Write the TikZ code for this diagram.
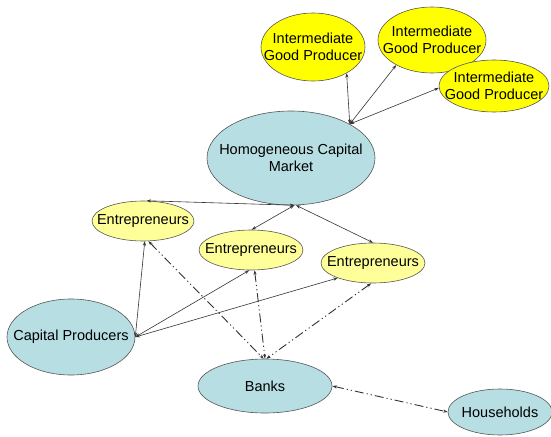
\documentclass[tikz,border=0pt]{standalone}
\usepackage{fontspec}
\setmainfont{Liberation Sans}
\usepackage{xcolor}
\usetikzlibrary{shapes.geometric}
\usetikzlibrary{arrows.meta}

\definecolor{capblue}{RGB}{183,222,226}
\definecolor{goodyellow}{RGB}{255,255,0}
\definecolor{entyellow}{RGB}{255,255,153}
\definecolor{rimgray}{RGB}{85,85,85}

\begin{document}
\begin{tikzpicture}[x=1pt,y=-1pt,
	font=\fontsize{14.5}{17.5}\selectfont,
	blob/.style={ellipse,draw=rimgray,line width=0.6pt,inner sep=0pt},
	market/.style={blob,fill=capblue},
	good/.style={blob,fill=goodyellow},
	firm/.style={blob,fill=entyellow},
	link/.style={{Stealth[length=4.5pt,width=3.2pt]}-{Stealth[length=4.5pt,width=3.2pt]},line width=0.6pt,draw=black!80},
	credit/.style={link,line width=0.9pt,dash pattern=on 9pt off 3pt on 1.2pt off 3pt on 1.2pt off 3pt}]
	\useasboundingbox (0,0) rectangle (551,436);
	\node [market,minimum width=168,minimum height=94,label={[align=center]center:Homogeneous Capital\\Market}] (hcm) at (291,158){};
	\node [good,minimum width=104,minimum height=68,label={[align=center]center:Intermediate\\Good Producer}] (igp1) at (313,47){};
	\node [good,minimum width=108,minimum height=66,label={[align=center]center:Intermediate\\Good Producer}] (igp2) at (432,40){};
	\node [good,minimum width=110,minimum height=52,label={[align=center]center:Intermediate\\Good Producer}] (igp3) at (494,86){};
	\node [firm,minimum width=102,minimum height=40,label=center:Entrepreneurs] (ent1) at (143,221){};
	\node [firm,minimum width=104,minimum height=40,label=center:Entrepreneurs] (ent2) at (251,250){};
	\node [firm,minimum width=104,minimum height=40,label=center:Entrepreneurs] (ent3) at (373,263){};
	\node [market,minimum width=128,minimum height=76,label=center:Capital Producers] (cp) at (71,337){};
	\node [market,minimum width=134,minimum height=54,label=center:Banks] (banks) at (265,386){};
	\node [market,minimum width=104,minimum height=46,label=center:Households] (hh) at (500,412){};
	\draw [link](hcm.30)--(igp1.-38);
	\draw [link](hcm.30)--(igp2.-145);
	\draw [link](hcm.30)--(igp3.182);
	\draw [link](hcm.-86)--(ent1.80);
	\draw [link](hcm.-86)--(ent2.88);
	\draw [link](hcm.-84)--(ent3.north);
	\draw [link](cp.east)--(ent1.-85);
	\draw [link](cp.east)--(ent2.-95);
	\draw [link](cp.east)--(ent3.-157);
	\draw [credit](ent1.-75)--(banks.93);
	\draw [credit](ent2.-80)--(banks.north);
	\draw [credit](ent3.-95)--(banks.87);
	\draw [credit](banks.east)--(hh.west);
\end{tikzpicture}
\end{document}
